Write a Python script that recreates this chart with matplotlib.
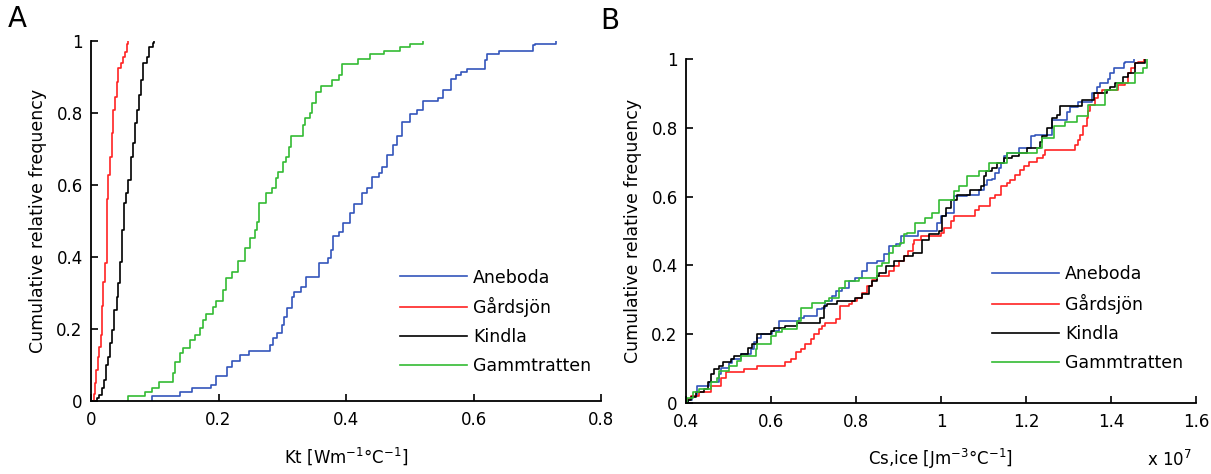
import matplotlib
matplotlib.use("Agg")
import matplotlib.pyplot as plt
from matplotlib.ticker import FuncFormatter

plt.rcParams['font.family'] = ['DejaVu Sans']

# ---------------- data (step points: value, cumulative frequency after step) -------------
series_names = ["Aneboda", "Gårdsjön", "Kindla", "Gammtratten"]
series_colors = ["#3355bb", "#ff2222", "#000000", "#33bb33"]

# Panel A: Kt [W m-1 C-1]
kt_aneboda_x = [0.0957, 0.1397, 0.159, 0.188, 0.196, 0.214, 0.221, 0.234, 0.248, 0.281, 0.286, 0.291,
                0.300, 0.303, 0.307, 0.315, 0.318, 0.330, 0.338, 0.357, 0.372, 0.376, 0.379, 0.389,
                0.396, 0.406, 0.412, 0.425, 0.433, 0.441, 0.452, 0.457, 0.465, 0.473, 0.480, 0.488,
                0.500, 0.511, 0.521, 0.544, 0.552, 0.564, 0.572, 0.580, 0.590, 0.618, 0.621, 0.640,
                0.693, 0.697, 0.729]
kt_aneboda_y = [0.014, 0.026, 0.035, 0.045, 0.070, 0.095, 0.111, 0.128, 0.140, 0.156, 0.174, 0.190,
                0.211, 0.234, 0.257, 0.290, 0.304, 0.318, 0.345, 0.382, 0.396, 0.419, 0.458, 0.470,
                0.494, 0.521, 0.547, 0.577, 0.591, 0.623, 0.632, 0.651, 0.683, 0.711, 0.736, 0.774,
                0.797, 0.808, 0.834, 0.841, 0.864, 0.894, 0.906, 0.913, 0.922, 0.947, 0.964, 0.973,
                0.989, 0.992, 1.0]

kt_gardsjon_x = [0.0050, 0.0065, 0.0078, 0.0105, 0.0131, 0.0157, 0.0167, 0.0180, 0.0190, 0.0220,
                 0.0246, 0.0258, 0.0270, 0.0298, 0.0324, 0.0350, 0.0377, 0.0400, 0.0429, 0.0466,
                 0.0497, 0.0533, 0.0560, 0.0586]
kt_gardsjon_y = [0.020, 0.050, 0.086, 0.123, 0.151, 0.183, 0.225, 0.265, 0.331, 0.382,
                 0.484, 0.560, 0.628, 0.679, 0.745, 0.808, 0.845, 0.887, 0.924, 0.938,
                 0.956, 0.970, 0.993, 1.0]

kt_kindla_x = [0.0089, 0.0130, 0.0167, 0.0204, 0.0235, 0.0270, 0.0298, 0.0335, 0.0366, 0.0403,
               0.0429, 0.0455, 0.0490, 0.0518, 0.0550, 0.0586, 0.0622, 0.0654, 0.0690, 0.0717,
               0.0753, 0.0780, 0.0811, 0.0873, 0.0915, 0.0968, 0.0990]
kt_kindla_y = [0.008, 0.017, 0.035, 0.058, 0.100, 0.123, 0.160, 0.197, 0.253, 0.290,
               0.327, 0.387, 0.475, 0.549, 0.577, 0.614, 0.679, 0.716, 0.771, 0.808,
               0.850, 0.892, 0.938, 0.956, 0.984, 0.994, 1.0]

kt_gamm_x = [0.0575, 0.0847, 0.095, 0.107, 0.128, 0.131, 0.139, 0.145, 0.155, 0.163, 0.171, 0.175,
             0.180, 0.191, 0.196, 0.207, 0.212, 0.221, 0.230, 0.242, 0.249, 0.257, 0.261, 0.264,
             0.275, 0.284, 0.290, 0.294, 0.301, 0.306, 0.310, 0.314, 0.332, 0.336, 0.344, 0.347,
             0.353, 0.360, 0.378, 0.389, 0.394, 0.419, 0.437, 0.459, 0.485, 0.500, 0.521]
kt_gamm_y = [0.014, 0.026, 0.037, 0.054, 0.077, 0.109, 0.134, 0.146, 0.169, 0.183, 0.202, 0.225,
             0.242, 0.262, 0.279, 0.308, 0.341, 0.359, 0.390, 0.424, 0.452, 0.475, 0.498, 0.549,
             0.577, 0.591, 0.619, 0.637, 0.665, 0.679, 0.705, 0.736, 0.767, 0.785, 0.799, 0.827,
             0.859, 0.875, 0.892, 0.906, 0.936, 0.949, 0.963, 0.972, 0.984, 0.992, 1.0]

# Panel B: Cs,ice [J m-3 C-1] in units of 1e7
cs_aneboda_x = [0.405, 0.415, 0.427, 0.455, 0.478, 0.482, 0.502, 0.509, 0.529, 0.552, 0.560, 0.568,
                0.576, 0.603, 0.619, 0.666, 0.677, 0.709, 0.720, 0.728, 0.744, 0.752, 0.767, 0.783,
                0.798, 0.814, 0.826, 0.849, 0.865, 0.878, 0.894, 0.905, 0.945, 0.991, 0.999, 1.011,
                1.031, 1.062, 1.089, 1.101, 1.109, 1.120, 1.128, 1.136, 1.140, 1.148, 1.156, 1.183,
                1.211, 1.222, 1.260, 1.296, 1.304, 1.323, 1.355, 1.367, 1.375, 1.394, 1.398, 1.406,
                1.430, 1.434, 1.455]
cs_aneboda_y = [0.010, 0.021, 0.050, 0.060, 0.084, 0.103, 0.116, 0.129, 0.142, 0.157, 0.176, 0.190,
                0.200, 0.210, 0.239, 0.248, 0.253, 0.272, 0.277, 0.297, 0.311, 0.326, 0.335, 0.355,
                0.364, 0.384, 0.408, 0.413, 0.432, 0.456, 0.461, 0.485, 0.499, 0.523, 0.543, 0.553,
                0.601, 0.606, 0.620, 0.635, 0.647, 0.651, 0.668, 0.683, 0.697, 0.717, 0.726, 0.741,
                0.775, 0.780, 0.823, 0.847, 0.861, 0.876, 0.900, 0.919, 0.929, 0.941, 0.958, 0.973,
                0.987, 0.992, 1.0]

cs_gardsjon_x = [0.400, 0.412, 0.431, 0.459, 0.482, 0.494, 0.537, 0.568, 0.634, 0.646, 0.658, 0.670,
                 0.681, 0.693, 0.701, 0.713, 0.720, 0.728, 0.752, 0.763, 0.783, 0.791, 0.802, 0.814,
                 0.826, 0.838, 0.849, 0.877, 0.890, 0.900, 0.912, 0.922, 0.933, 0.937, 0.952, 0.999,
                 1.007, 1.023, 1.030, 1.081, 1.089, 1.116, 1.128, 1.140, 1.155, 1.163, 1.175, 1.187,
                 1.195, 1.206, 1.225, 1.241, 1.245, 1.316, 1.323, 1.327, 1.335, 1.343, 1.347, 1.351,
                 1.362, 1.370, 1.378, 1.417, 1.433, 1.441, 1.448, 1.456, 1.464, 1.478]
cs_gardsjon_y = [0.012, 0.021, 0.033, 0.050, 0.074, 0.089, 0.099, 0.108, 0.118, 0.128, 0.147, 0.157,
                 0.171, 0.186, 0.200, 0.214, 0.224, 0.234, 0.243, 0.282, 0.287, 0.297, 0.306, 0.321,
                 0.340, 0.359, 0.369, 0.384, 0.398, 0.413, 0.427, 0.442, 0.461, 0.475, 0.485, 0.495,
                 0.509, 0.529, 0.543, 0.562, 0.572, 0.596, 0.606, 0.630, 0.640, 0.649, 0.664, 0.678,
                 0.688, 0.702, 0.712, 0.722, 0.736, 0.751, 0.765, 0.780, 0.804, 0.828, 0.848, 0.867,
                 0.886, 0.901, 0.910, 0.925, 0.929, 0.958, 0.973, 0.987, 0.992, 1.0]

cs_kindla_x = [0.405, 0.412, 0.423, 0.443, 0.451, 0.459, 0.466, 0.478, 0.486, 0.505, 0.513, 0.529,
               0.545, 0.556, 0.568, 0.599, 0.607, 0.634, 0.662, 0.716, 0.724, 0.732, 0.755, 0.798,
               0.814, 0.830, 0.838, 0.849, 0.855, 0.870, 0.890, 0.913, 0.933, 0.956, 0.972, 0.995,
               1.003, 1.011, 1.023, 1.038, 1.069, 1.093, 1.101, 1.105, 1.120, 1.132, 1.148, 1.167,
               1.183, 1.202, 1.234, 1.237, 1.249, 1.261, 1.273, 1.280, 1.331, 1.359, 1.390, 1.398,
               1.409, 1.429, 1.441, 1.456, 1.480]
cs_kindla_y = [0.008, 0.016, 0.031, 0.041, 0.060, 0.084, 0.099, 0.108, 0.118, 0.128, 0.137, 0.142,
               0.161, 0.171, 0.200, 0.210, 0.219, 0.224, 0.234, 0.248, 0.282, 0.287, 0.297, 0.306,
               0.316, 0.340, 0.355, 0.369, 0.379, 0.398, 0.412, 0.427, 0.437, 0.475, 0.490, 0.500,
               0.543, 0.567, 0.591, 0.606, 0.620, 0.630, 0.659, 0.673, 0.683, 0.698, 0.712, 0.717,
               0.727, 0.741, 0.760, 0.775, 0.799, 0.828, 0.838, 0.862, 0.881, 0.900, 0.910, 0.920,
               0.929, 0.949, 0.958, 0.987, 1.0]

cs_gamm_x = [0.402, 0.416, 0.431, 0.459, 0.474, 0.478, 0.502, 0.521, 0.529, 0.564, 0.568, 0.599,
             0.611, 0.627, 0.662, 0.670, 0.697, 0.728, 0.736, 0.759, 0.775, 0.806, 0.849, 0.861,
             0.877, 0.888, 0.904, 0.912, 0.920, 0.939, 0.963, 0.978, 0.995, 1.030, 1.042, 1.062,
             1.089, 1.112, 1.155, 1.226, 1.238, 1.265, 1.292, 1.320, 1.347, 1.386, 1.413, 1.456,
             1.476, 1.485]
cs_gamm_y = [0.015, 0.031, 0.041, 0.060, 0.074, 0.094, 0.108, 0.123, 0.137, 0.157, 0.171, 0.195,
             0.205, 0.214, 0.239, 0.277, 0.292, 0.297, 0.306, 0.335, 0.355, 0.364, 0.398, 0.408,
             0.437, 0.456, 0.466, 0.490, 0.494, 0.523, 0.538, 0.552, 0.591, 0.615, 0.630, 0.659,
             0.673, 0.698, 0.727, 0.741, 0.770, 0.804, 0.818, 0.833, 0.867, 0.910, 0.929, 0.958,
             0.973, 1.0]

kt_xticks = [0, 0.2, 0.4, 0.6, 0.8]
cs_xticks = [0.4, 0.6, 0.8, 1.0, 1.2, 1.4, 1.6]
y_ticks = [0, 0.2, 0.4, 0.6, 0.8, 1.0]

kt_series = [(kt_aneboda_x, kt_aneboda_y), (kt_gardsjon_x, kt_gardsjon_y),
             (kt_kindla_x, kt_kindla_y), (kt_gamm_x, kt_gamm_y)]
cs_series = [(cs_aneboda_x, cs_aneboda_y), (cs_gardsjon_x, cs_gardsjon_y),
             (cs_kindla_x, cs_kindla_y), (cs_gamm_x, cs_gamm_y)]

# ---------------- figure -------------
W, H = 1211, 474
fig = plt.figure(figsize=(W / 100, H / 100), dpi=100)

def px_axes(l, t, r, b):
    return fig.add_axes([l / W, 1 - b / H, (r - l) / W, (b - t) / H])

axA = px_axes(91, 41, 601, 401)
axB = px_axes(686, 59, 1196, 403)

fmt = FuncFormatter(lambda v, p: "%g" % round(v, 3))
FS = 12
LFS = 12.5

def style(ax, xticks, xlim):
    for s in ["top", "right"]:
        ax.spines[s].set_visible(False)
    for s in ["left", "bottom"]:
        ax.spines[s].set_linewidth(1.3)
    ax.set_xlim(*xlim)
    ax.set_ylim(0, 1)
    ax.set_xticks(xticks)
    ax.set_yticks(y_ticks)
    ax.xaxis.set_major_formatter(fmt)
    ax.yaxis.set_major_formatter(fmt)
    ax.tick_params(direction="in", length=5, width=1.2, labelsize=FS, colors="#000000")
    ax.tick_params(axis="x", pad=7)
    ax.tick_params(axis="y", pad=6)
    ax.set_ylabel("Cumulative relative frequency", fontsize=12.5, labelpad=7)

def draw(ax, series):
    for (xs, ys), name, col in zip(series, series_names, series_colors):
        ax.step([xs[0]] + xs, [0.0] + ys, where="post", color=col, lw=1.2, label=name)

leg_kw = dict(loc="upper left", frameon=False, fontsize=LFS, handlelength=3.86,
              handletextpad=0.35, labelspacing=0.62, borderpad=0, borderaxespad=0)

draw(axA, kt_series)
style(axA, kt_xticks, (0, 0.8))
axA.set_xlabel("Kt [Wm$^{-1}$°C$^{-1}$]", fontsize=12, labelpad=12)
axA.legend(bbox_to_anchor=(0.606, 0.368), **leg_kw)

draw(axB, cs_series)
style(axB, cs_xticks, (0.4, 1.6))
axB.set_xlabel("Cs,ice [Jm$^{-3}$°C$^{-1}$]", fontsize=12, labelpad=12)
axB.legend(bbox_to_anchor=(0.60, 0.40), **leg_kw)

fig.text(1169 / W, 1 - 460 / H, "x 10$^{7}$", fontsize=12, ha="center", va="center")
fig.text(8 / W, 1 - 19 / H, "A", fontsize=20, ha="left", va="center")
fig.text(600 / W, 1 - 21 / H, "B", fontsize=20, ha="left", va="center")

fig.savefig("out.png", dpi=100)
